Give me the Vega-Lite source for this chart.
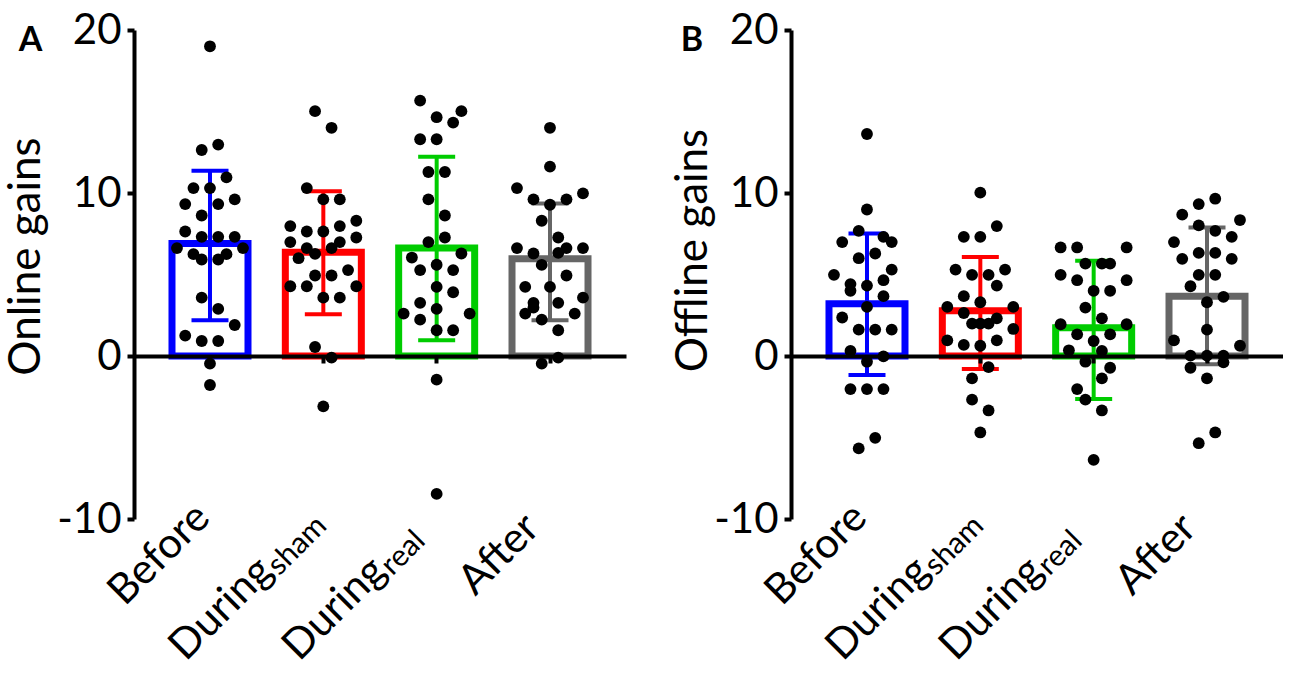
{
  "$schema": "https://vega.github.io/schema/vega-lite/v6.json",
  "autosize": {"type": "pad"},
  "padding": {"left": 4, "top": 9, "right": 0, "bottom": 0},
  "bounds": "flush",
  "spacing": 165,
  "datasets": {
    "pts": [
      {"p":"A","g":"Before","v":19.0,"s":0},{"p":"A","g":"Before","v":12.64,"s":-1},{"p":"A","g":"Before","v":12.97,"s":1},{"p":"A","g":"Before","v":10.96,"s":2},{"p":"A","g":"Before","v":10.3,"s":-2},{"p":"A","g":"Before","v":10.3,"s":0},{"p":"A","g":"Before","v":9.32,"s":-3},{"p":"A","g":"Before","v":9.32,"s":1},{"p":"A","g":"Before","v":9.61,"s":3},{"p":"A","g":"Before","v":8.62,"s":-1},{"p":"A","g":"Before","v":7.64,"s":-3},{"p":"A","g":"Before","v":7.31,"s":-1},{"p":"A","g":"Before","v":7.31,"s":1},{"p":"A","g":"Before","v":7.31,"s":3},{"p":"A","g":"Before","v":6.62,"s":-4},{"p":"A","g":"Before","v":6.62,"s":4},{"p":"A","g":"Before","v":6.25,"s":-2},{"p":"A","g":"Before","v":6.25,"s":2},{"p":"A","g":"Before","v":5.92,"s":-1},{"p":"A","g":"Before","v":5.92,"s":1},{"p":"A","g":"Before","v":3.58,"s":-1},{"p":"A","g":"Before","v":2.89,"s":1},{"p":"A","g":"Before","v":1.9,"s":3},{"p":"A","g":"Before","v":1.25,"s":-3},{"p":"A","g":"Before","v":0.92,"s":-1},{"p":"A","g":"Before","v":0.92,"s":1},{"p":"A","g":"Before","v":-0.47,"s":0},{"p":"A","g":"Before","v":-1.78,"s":0},
      {"p":"A","g":"During sham","v":15.02,"s":-1},{"p":"A","g":"During sham","v":14.0,"s":1},{"p":"A","g":"During sham","v":10.3,"s":-2},{"p":"A","g":"During sham","v":9.61,"s":0},{"p":"A","g":"During sham","v":9.61,"s":2},{"p":"A","g":"During sham","v":7.97,"s":-4},{"p":"A","g":"During sham","v":7.64,"s":-2},{"p":"A","g":"During sham","v":7.64,"s":0},{"p":"A","g":"During sham","v":7.97,"s":2},{"p":"A","g":"During sham","v":8.3,"s":4},{"p":"A","g":"During sham","v":6.99,"s":-4},{"p":"A","g":"During sham","v":6.62,"s":-2},{"p":"A","g":"During sham","v":6.62,"s":1},{"p":"A","g":"During sham","v":6.99,"s":2},{"p":"A","g":"During sham","v":7.27,"s":4},{"p":"A","g":"During sham","v":6.0,"s":-3},{"p":"A","g":"During sham","v":6.27,"s":-1},{"p":"A","g":"During sham","v":5.27,"s":3},{"p":"A","g":"During sham","v":4.94,"s":-1},{"p":"A","g":"During sham","v":4.94,"s":1},{"p":"A","g":"During sham","v":4.28,"s":-4},{"p":"A","g":"During sham","v":4.28,"s":-2},{"p":"A","g":"During sham","v":4.28,"s":4},{"p":"A","g":"During sham","v":3.58,"s":0},{"p":"A","g":"During sham","v":3.58,"s":2},{"p":"A","g":"During sham","v":0.55,"s":-1},{"p":"A","g":"During sham","v":-0.1,"s":1},{"p":"A","g":"During sham","v":-3.09,"s":0},
      {"p":"A","g":"During real","v":15.67,"s":-2},{"p":"A","g":"During real","v":15.02,"s":3},{"p":"A","g":"During real","v":14.65,"s":0},{"p":"A","g":"During real","v":14.32,"s":2},{"p":"A","g":"During real","v":13.3,"s":-2},{"p":"A","g":"During real","v":13.3,"s":0},{"p":"A","g":"During real","v":11.29,"s":-1},{"p":"A","g":"During real","v":11.29,"s":1},{"p":"A","g":"During real","v":9.61,"s":-1},{"p":"A","g":"During real","v":8.62,"s":1},{"p":"A","g":"During real","v":7.27,"s":1},{"p":"A","g":"During real","v":6.99,"s":-1},{"p":"A","g":"During real","v":6.04,"s":-3},{"p":"A","g":"During real","v":6.29,"s":3},{"p":"A","g":"During real","v":5.6,"s":0},{"p":"A","g":"During real","v":5.27,"s":-2},{"p":"A","g":"During real","v":5.27,"s":2},{"p":"A","g":"During real","v":4.24,"s":0},{"p":"A","g":"During real","v":3.91,"s":2},{"p":"A","g":"During real","v":3.26,"s":-2},{"p":"A","g":"During real","v":2.89,"s":0},{"p":"A","g":"During real","v":2.6,"s":-4},{"p":"A","g":"During real","v":2.23,"s":-2},{"p":"A","g":"During real","v":2.6,"s":4},{"p":"A","g":"During real","v":1.58,"s":0},{"p":"A","g":"During real","v":1.58,"s":2},{"p":"A","g":"During real","v":-1.45,"s":0},{"p":"A","g":"During real","v":-8.46,"s":0},
      {"p":"A","g":"After","v":14.0,"s":0},{"p":"A","g":"After","v":11.62,"s":0},{"p":"A","g":"After","v":10.3,"s":-4},{"p":"A","g":"After","v":9.98,"s":4},{"p":"A","g":"After","v":9.61,"s":-2},{"p":"A","g":"After","v":9.61,"s":2},{"p":"A","g":"After","v":9.28,"s":0},{"p":"A","g":"After","v":8.3,"s":-1},{"p":"A","g":"After","v":7.27,"s":1},{"p":"A","g":"After","v":6.62,"s":-4},{"p":"A","g":"After","v":6.62,"s":2},{"p":"A","g":"After","v":6.62,"s":4},{"p":"A","g":"After","v":6.29,"s":-2},{"p":"A","g":"After","v":6.33,"s":1},{"p":"A","g":"After","v":5.59,"s":-1},{"p":"A","g":"After","v":4.94,"s":2},{"p":"A","g":"After","v":4.24,"s":-3},{"p":"A","g":"After","v":4.24,"s":0},{"p":"A","g":"After","v":3.58,"s":4},{"p":"A","g":"After","v":3.26,"s":-2},{"p":"A","g":"After","v":3.26,"s":1},{"p":"A","g":"After","v":2.6,"s":-3},{"p":"A","g":"After","v":2.97,"s":-2},{"p":"A","g":"After","v":2.6,"s":3},{"p":"A","g":"After","v":2.23,"s":-1},{"p":"A","g":"After","v":1.58,"s":1},{"p":"A","g":"After","v":-0.1,"s":1},{"p":"A","g":"After","v":-0.47,"s":-1},
      {"p":"B","g":"Before","v":13.62,"s":0},{"p":"B","g":"Before","v":8.99,"s":0},{"p":"B","g":"Before","v":7.68,"s":-1},{"p":"B","g":"Before","v":7.31,"s":2},{"p":"B","g":"Before","v":6.99,"s":-3},{"p":"B","g":"Before","v":6.99,"s":3},{"p":"B","g":"Before","v":6.29,"s":1},{"p":"B","g":"Before","v":6.0,"s":-1},{"p":"B","g":"Before","v":5.3,"s":3},{"p":"B","g":"Before","v":4.98,"s":-4},{"p":"B","g":"Before","v":4.65,"s":2},{"p":"B","g":"Before","v":4.41,"s":-2},{"p":"B","g":"Before","v":4.32,"s":0},{"p":"B","g":"Before","v":4.0,"s":-2},{"p":"B","g":"Before","v":3.67,"s":2},{"p":"B","g":"Before","v":3.01,"s":0},{"p":"B","g":"Before","v":2.36,"s":-3},{"p":"B","g":"Before","v":1.62,"s":-1},{"p":"B","g":"Before","v":1.62,"s":1},{"p":"B","g":"Before","v":1.62,"s":3},{"p":"B","g":"Before","v":0.31,"s":-2},{"p":"B","g":"Before","v":-0.02,"s":2},{"p":"B","g":"Before","v":-0.35,"s":0},{"p":"B","g":"Before","v":-2.03,"s":-2},{"p":"B","g":"Before","v":-2.03,"s":0},{"p":"B","g":"Before","v":-2.03,"s":2},{"p":"B","g":"Before","v":-5.02,"s":1},{"p":"B","g":"Before","v":-5.67,"s":-1},
      {"p":"B","g":"During sham","v":10.02,"s":0},{"p":"B","g":"During sham","v":7.97,"s":2},{"p":"B","g":"During sham","v":7.31,"s":-2},{"p":"B","g":"During sham","v":7.31,"s":0},{"p":"B","g":"During sham","v":5.3,"s":-3},{"p":"B","g":"During sham","v":5.3,"s":3},{"p":"B","g":"During sham","v":4.98,"s":-1},{"p":"B","g":"During sham","v":4.98,"s":1},{"p":"B","g":"During sham","v":4.32,"s":2},{"p":"B","g":"During sham","v":3.67,"s":-2},{"p":"B","g":"During sham","v":3.3,"s":0},{"p":"B","g":"During sham","v":3.01,"s":-4},{"p":"B","g":"During sham","v":3.01,"s":4},{"p":"B","g":"During sham","v":2.64,"s":-2},{"p":"B","g":"During sham","v":2.31,"s":2},{"p":"B","g":"During sham","v":1.99,"s":-1},{"p":"B","g":"During sham","v":1.99,"s":0},{"p":"B","g":"During sham","v":1.99,"s":1},{"p":"B","g":"During sham","v":1.66,"s":4},{"p":"B","g":"During sham","v":0.96,"s":-4},{"p":"B","g":"During sham","v":0.96,"s":2},{"p":"B","g":"During sham","v":0.68,"s":-2},{"p":"B","g":"During sham","v":0.63,"s":0},{"p":"B","g":"During sham","v":-0.68,"s":1},{"p":"B","g":"During sham","v":-1.37,"s":-1},{"p":"B","g":"During sham","v":-2.68,"s":-1},{"p":"B","g":"During sham","v":-3.34,"s":1},{"p":"B","g":"During sham","v":-4.69,"s":0},
      {"p":"B","g":"During real","v":6.66,"s":-4},{"p":"B","g":"During real","v":6.66,"s":-2},{"p":"B","g":"During real","v":6.66,"s":4},{"p":"B","g":"During real","v":5.67,"s":-1},{"p":"B","g":"During real","v":5.67,"s":1},{"p":"B","g":"During real","v":5.67,"s":2},{"p":"B","g":"During real","v":4.98,"s":-4},{"p":"B","g":"During real","v":4.65,"s":-2},{"p":"B","g":"During real","v":4.65,"s":4},{"p":"B","g":"During real","v":4.0,"s":0},{"p":"B","g":"During real","v":4.0,"s":2},{"p":"B","g":"During real","v":2.97,"s":-1},{"p":"B","g":"During real","v":2.31,"s":1},{"p":"B","g":"During real","v":1.95,"s":-4},{"p":"B","g":"During real","v":1.95,"s":4},{"p":"B","g":"During real","v":1.33,"s":-2},{"p":"B","g":"During real","v":1.33,"s":2},{"p":"B","g":"During real","v":0.92,"s":0},{"p":"B","g":"During real","v":0.35,"s":-3},{"p":"B","g":"During real","v":0.31,"s":1},{"p":"B","g":"During real","v":-0.35,"s":-1},{"p":"B","g":"During real","v":-0.72,"s":2},{"p":"B","g":"During real","v":-1.37,"s":1},{"p":"B","g":"During real","v":-2.03,"s":-2},{"p":"B","g":"During real","v":-2.68,"s":-1},{"p":"B","g":"During real","v":-3.34,"s":1},{"p":"B","g":"During real","v":-6.37,"s":0},
      {"p":"B","g":"After","v":9.65,"s":1},{"p":"B","g":"After","v":9.32,"s":-1},{"p":"B","g":"After","v":8.67,"s":-3},{"p":"B","g":"After","v":8.34,"s":4},{"p":"B","g":"After","v":8.01,"s":-1},{"p":"B","g":"After","v":7.68,"s":1},{"p":"B","g":"After","v":7.31,"s":3},{"p":"B","g":"After","v":6.99,"s":-4},{"p":"B","g":"After","v":6.33,"s":-1},{"p":"B","g":"After","v":6.33,"s":1},{"p":"B","g":"After","v":5.96,"s":-3},{"p":"B","g":"After","v":5.96,"s":3},{"p":"B","g":"After","v":4.98,"s":-1},{"p":"B","g":"After","v":4.98,"s":1},{"p":"B","g":"After","v":4.28,"s":-2},{"p":"B","g":"After","v":3.63,"s":2},{"p":"B","g":"After","v":3.3,"s":0},{"p":"B","g":"After","v":1.62,"s":0},{"p":"B","g":"After","v":0.96,"s":-4},{"p":"B","g":"After","v":0.63,"s":4},{"p":"B","g":"After","v":0.02,"s":-2},{"p":"B","g":"After","v":0.02,"s":0},{"p":"B","g":"After","v":0.02,"s":2},{"p":"B","g":"After","v":-0.72,"s":-2},{"p":"B","g":"After","v":-0.39,"s":2},{"p":"B","g":"After","v":-1.37,"s":0},{"p":"B","g":"After","v":-4.69,"s":1},{"p":"B","g":"After","v":-5.35,"s":-1}
    ],
    "sum": [
      {"p":"A","g":"Before","mean":6.9,"lo":2.19,"hi":11.37},
      {"p":"A","g":"During sham","mean":6.37,"lo":2.56,"hi":10.1},
      {"p":"A","g":"During real","mean":6.62,"lo":0.96,"hi":12.23},
      {"p":"A","g":"After","mean":5.96,"lo":2.19,"hi":9.36},
      {"p":"B","g":"Before","mean":3.21,"lo":-1.17,"hi":7.52},
      {"p":"B","g":"During sham","mean":2.77,"lo":-0.8,"hi":6.08},
      {"p":"B","g":"During real","mean":1.74,"lo":-2.64,"hi":5.84},
      {"p":"B","g":"After","mean":3.67,"lo":-0.51,"hi":7.89}
    ],
    "lab": [
      {"g":"Before","main":"Before","sub":"","k":"plain"},
      {"g":"During sham","main":"During","sub":"sham","k":"sub"},
      {"g":"During real","main":"During","sub":"real","k":"sub"},
      {"g":"After","main":"After","sub":"","k":"plain"}
    ]
  },
  "hconcat": [
    {
      "width": 492, "height": 489,
      "title": {"text": "A", "anchor": "start", "frame": "bounds", "font": "Lato", "fontSize": 34, "fontWeight": "bold", "color": "black", "baseline": "alphabetic", "offset": 0, "dx": 14, "dy": 76},
      "encoding": {
        "x": {"field": "g", "type": "nominal", "sort": ["Before","During sham","During real","After"],
              "scale": {"paddingInner": 0.329, "paddingOuter": 0.335},
              "axis": {"orient": "bottom", "offset": -163, "labels": false, "title": null, "domain": true, "ticks": true, "zindex": 1}}
      },
      "layer": [
        {"data": {"name": "sum"}, "transform": [{"filter": "datum.p === 'A'"}],
         "mark": {"type": "bar", "fill": "white", "strokeWidth": 7, "width": 76},
         "encoding": {
           "y": {"field": "mean", "type": "quantitative", "title": "Online gains", "scale": {"domain": [-10, 20], "nice": false},
                 "axis": {"values": [-10, 0, 10, 20], "labelExpr": "'' + datum.value", "labelPadding": 6, "titlePadding": 8, "titleFontSize": 44, "titleY": 226, "zindex": 1}},
           "stroke": {"field": "g", "type": "nominal", "legend": null, "scale": {"domain": ["Before","During sham","During real","After"], "range": ["#0000ff","#ff0000","#00cc00","#666666"]}}
         }},
        {"data": {"name": "sum"}, "transform": [{"filter": "datum.p === 'A'"}],
         "mark": {"type": "rule", "strokeWidth": 4},
         "encoding": {
           "y": {"field": "lo", "type": "quantitative", "title": "Online gains"},
           "y2": {"field": "hi"},
           "color": {"field": "g", "type": "nominal", "legend": null, "scale": {"domain": ["Before","During sham","During real","After"], "range": ["#0000ff","#ff0000","#00cc00","#666666"]}}
         }},
        {"data": {"name": "sum"}, "transform": [{"filter": "datum.p === 'A'"}],
         "mark": {"type": "tick", "size": 37, "thickness": 4, "opacity": 1},
         "encoding": {
           "y": {"field": "hi", "type": "quantitative", "title": "Online gains"},
           "color": {"field": "g", "type": "nominal", "legend": null}
         }},
        {"data": {"name": "sum"}, "transform": [{"filter": "datum.p === 'A'"}],
         "mark": {"type": "tick", "size": 37, "thickness": 4, "opacity": 1},
         "encoding": {
           "y": {"field": "lo", "type": "quantitative", "title": "Online gains"},
           "color": {"field": "g", "type": "nominal", "legend": null}
         }},
        {"data": {"name": "pts"}, "transform": [{"filter": "datum.p === 'A'"}],
         "mark": {"type": "circle", "size": 140, "color": "black", "opacity": 1},
         "encoding": {
           "y": {"field": "v", "type": "quantitative", "title": "Online gains"},
           "xOffset": {"field": "s", "type": "quantitative", "scale": {"domain": [-4, 4], "range": [5, 71]}}
         }},
        {"data": {"name": "lab"}, "transform": [{"filter": "datum.k === 'plain'"}],
         "mark": {"type": "text", "angle": -45, "align": "center", "baseline": "alphabetic", "dx": -61, "dy": 2, "font": "Lato", "fontSize": 42, "color": "black"},
         "encoding": {"y": {"datum": -10, "type": "quantitative", "title": "Online gains"}, "text": {"field": "main"}}},
        {"data": {"name": "lab"}, "transform": [{"filter": "datum.k === 'sub'"}],
         "mark": {"type": "text", "angle": -45, "align": "right", "baseline": "alphabetic", "dx": -72.8, "dy": 4, "font": "Lato", "fontSize": 42, "color": "black"},
         "encoding": {"y": {"datum": -10, "type": "quantitative", "title": "Online gains"}, "text": {"field": "main"}}},
        {"data": {"name": "lab"}, "transform": [{"filter": "datum.k === 'sub'"}],
         "mark": {"type": "text", "angle": -45, "align": "left", "baseline": "alphabetic", "dx": -71.8, "dy": 9.5, "font": "Lato", "fontSize": 30, "color": "black"},
         "encoding": {"y": {"datum": -10, "type": "quantitative", "title": "Online gains"}, "text": {"field": "sub"}}}
      ]
    },
    {
      "width": 492, "height": 489,
      "title": {"text": "B", "anchor": "start", "frame": "bounds", "font": "Lato", "fontSize": 34, "fontWeight": "bold", "color": "black", "baseline": "alphabetic", "offset": 0, "dx": 9, "dy": 76},
      "encoding": {
        "x": {"field": "g", "type": "nominal", "sort": ["Before","During sham","During real","After"],
              "scale": {"paddingInner": 0.329, "paddingOuter": 0.335},
              "axis": {"orient": "bottom", "offset": -163, "labels": false, "title": null, "domain": true, "ticks": true, "zindex": 1}}
      },
      "layer": [
        {"data": {"name": "sum"}, "transform": [{"filter": "datum.p === 'B'"}],
         "mark": {"type": "bar", "fill": "white", "strokeWidth": 7, "width": 76},
         "encoding": {
           "y": {"field": "mean", "type": "quantitative", "title": "Offline gains", "scale": {"domain": [-10, 20], "nice": false},
                 "axis": {"values": [-10, 0, 10, 20], "labelExpr": "'' + datum.value", "labelPadding": 6, "titlePadding": -2, "titleFontSize": 44, "titleY": 220, "zindex": 1}},
           "stroke": {"field": "g", "type": "nominal", "legend": null, "scale": {"domain": ["Before","During sham","During real","After"], "range": ["#0000ff","#ff0000","#00cc00","#666666"]}}
         }},
        {"data": {"name": "sum"}, "transform": [{"filter": "datum.p === 'B'"}],
         "mark": {"type": "rule", "strokeWidth": 4},
         "encoding": {
           "y": {"field": "lo", "type": "quantitative", "title": "Offline gains"},
           "y2": {"field": "hi"},
           "color": {"field": "g", "type": "nominal", "legend": null, "scale": {"domain": ["Before","During sham","During real","After"], "range": ["#0000ff","#ff0000","#00cc00","#666666"]}}
         }},
        {"data": {"name": "sum"}, "transform": [{"filter": "datum.p === 'B'"}],
         "mark": {"type": "tick", "size": 37, "thickness": 4, "opacity": 1},
         "encoding": {
           "y": {"field": "hi", "type": "quantitative", "title": "Offline gains"},
           "color": {"field": "g", "type": "nominal", "legend": null}
         }},
        {"data": {"name": "sum"}, "transform": [{"filter": "datum.p === 'B'"}],
         "mark": {"type": "tick", "size": 37, "thickness": 4, "opacity": 1},
         "encoding": {
           "y": {"field": "lo", "type": "quantitative", "title": "Offline gains"},
           "color": {"field": "g", "type": "nominal", "legend": null}
         }},
        {"data": {"name": "pts"}, "transform": [{"filter": "datum.p === 'B'"}],
         "mark": {"type": "circle", "size": 140, "color": "black", "opacity": 1},
         "encoding": {
           "y": {"field": "v", "type": "quantitative", "title": "Offline gains"},
           "xOffset": {"field": "s", "type": "quantitative", "scale": {"domain": [-4, 4], "range": [5, 71]}}
         }},
        {"data": {"name": "lab"}, "transform": [{"filter": "datum.k === 'plain'"}],
         "mark": {"type": "text", "angle": -45, "align": "center", "baseline": "alphabetic", "dx": -61, "dy": 2, "font": "Lato", "fontSize": 42, "color": "black"},
         "encoding": {"y": {"datum": -10, "type": "quantitative", "title": "Offline gains"}, "text": {"field": "main"}}},
        {"data": {"name": "lab"}, "transform": [{"filter": "datum.k === 'sub'"}],
         "mark": {"type": "text", "angle": -45, "align": "right", "baseline": "alphabetic", "dx": -72.8, "dy": 4, "font": "Lato", "fontSize": 42, "color": "black"},
         "encoding": {"y": {"datum": -10, "type": "quantitative", "title": "Offline gains"}, "text": {"field": "main"}}},
        {"data": {"name": "lab"}, "transform": [{"filter": "datum.k === 'sub'"}],
         "mark": {"type": "text", "angle": -45, "align": "left", "baseline": "alphabetic", "dx": -71.8, "dy": 9.5, "font": "Lato", "fontSize": 30, "color": "black"},
         "encoding": {"y": {"datum": -10, "type": "quantitative", "title": "Offline gains"}, "text": {"field": "sub"}}}
      ]
    }
  ],
  "config": {
    "view": {"stroke": null},
    "font": "Lato",
    "axis": {"domainColor": "black", "domainWidth": 4, "tickColor": "black", "tickWidth": 4, "tickSize": 7, "labelFont": "Lato", "labelFontSize": 42, "labelColor": "black", "titleFont": "Lato", "titleFontSize": 42, "titleFontWeight": "normal", "titleColor": "black", "grid": false}
  }
}
